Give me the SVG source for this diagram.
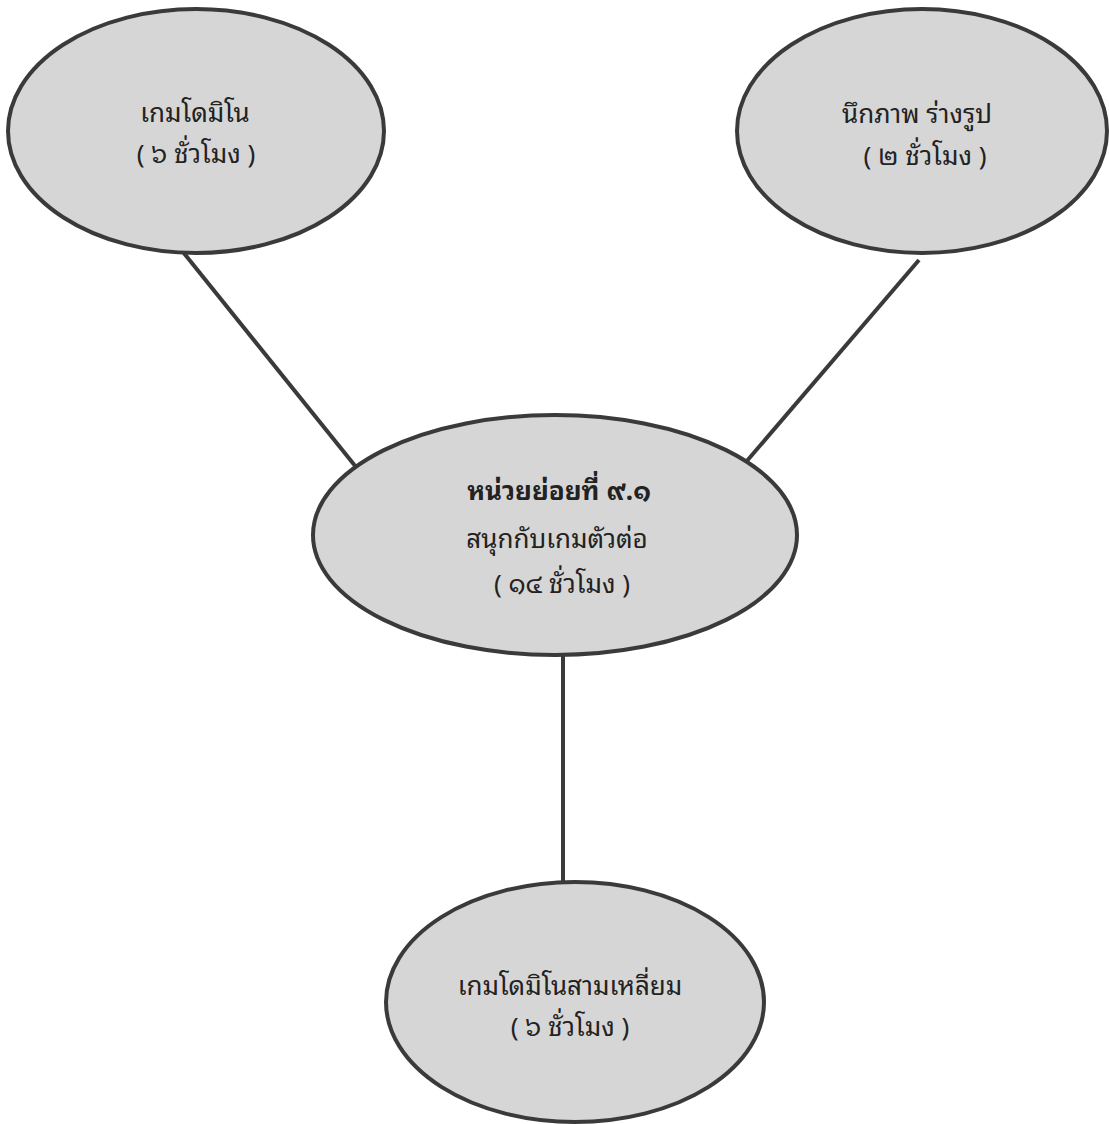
<svg xmlns="http://www.w3.org/2000/svg" width="1109" height="1124" viewBox="0 0 1109 1124">
<style>
.node ellipse{fill:#d6d6d6;stroke:#3a3a3a;stroke-width:4}
.conn line{stroke:#3a3a3a;stroke-width:4}
text{font-family:"Noto Sans Thai Looped","Noto Sans Thai","Noto Sans","DejaVu Sans",sans-serif;font-size:26px;fill:#222222;text-anchor:middle}
.b{font-weight:bold}
</style>
<rect width="1109" height="1124" fill="#ffffff"/>
<g id="connectors" class="conn">
<line x1="183" y1="252" x2="356" y2="467"/>
<line x1="919" y1="260" x2="746" y2="462"/>
<line x1="563" y1="655" x2="563" y2="883"/>
</g>
<g id="node-domino" class="node">
<ellipse cx="196" cy="131" rx="188" ry="122"/>
<text x="195" y="122">เกมโดมิโน</text>
<text x="196" y="163">( ๖ ชั่วโมง )</text>
</g>
<g id="node-imagine" class="node">
<ellipse cx="922" cy="131" rx="185" ry="122"/>
<text x="917" y="123">นึกภาพ ร่างรูป</text>
<text x="925" y="165">( ๒ ชั่วโมง )</text>
</g>
<g id="node-main" class="node">
<ellipse cx="555" cy="535" rx="242" ry="120"/>
<text class="b" x="559" y="500">หน่วยย่อยที่ ๙.๑</text>
<text x="557" y="548">สนุกกับเกมตัวต่อ</text>
<text x="562" y="593">( ๑๔ ชั่วโมง )</text>
</g>
<g id="node-triangle" class="node">
<ellipse cx="575" cy="1002" rx="189" ry="120"/>
<text x="570" y="995">เกมโดมิโนสามเหลี่ยม</text>
<text x="570" y="1036">( ๖ ชั่วโมง )</text>
</g>
</svg>
